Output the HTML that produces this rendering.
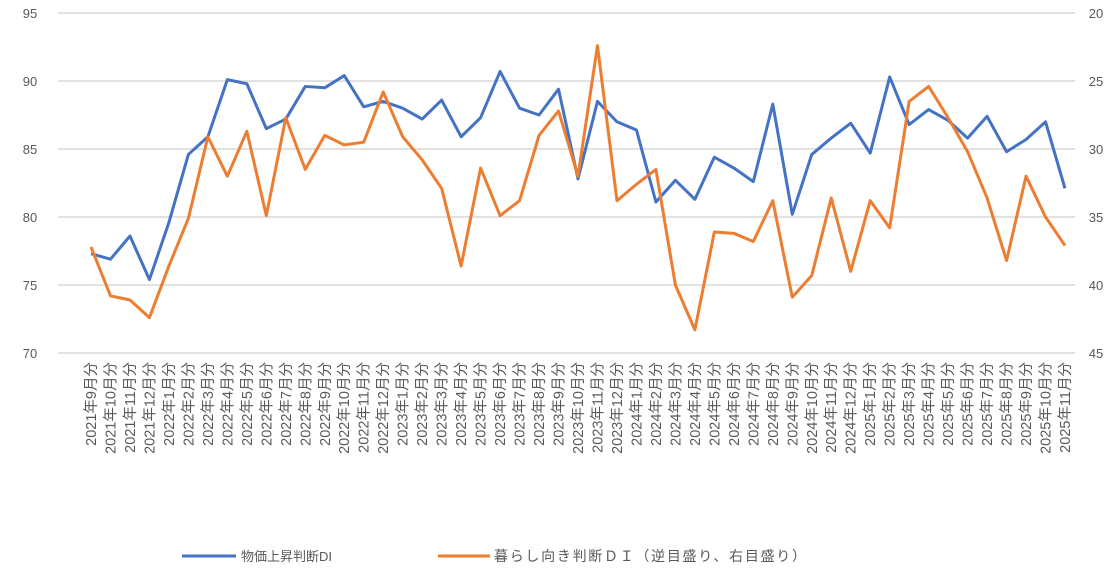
<!DOCTYPE html>
<html><head><meta charset="utf-8"><style>
body{margin:0;background:#fff;}
svg text{font-family:"Liberation Sans","Noto Sans CJK JP",sans-serif;fill:#595959;}
</style></head><body>
<svg id="chart" width="1114" height="573" xmlns="http://www.w3.org/2000/svg">
<g id="grid"></g><g id="xlabels"></g><g id="lines"></g>
<g>
<line x1="182" y1="556" x2="236" y2="556" stroke="#4472C4" stroke-width="3"/>
<text x="241" y="561" font-size="13">物価上昇判断DI</text>
<line x1="438" y1="556" x2="490" y2="556" stroke="#ED7D31" stroke-width="3"/>
<text x="494" y="561" font-size="14" textLength="312" lengthAdjust="spacing">暮らし向き判断ＤＩ（逆目盛り、右目盛り）</text>
</g>
</svg>
<script>
const categories=[];
for(let y=2021,m=9;!(y===2025&&m===12);){categories.push(y+'年'+m+'月分');m++;if(m>12){m=1;y++;}}
const priceDI=[77.3,76.9,78.6,75.4,79.6,84.6,85.9,90.1,89.8,86.5,87.2,89.6,89.5,90.4,88.1,88.5,88.0,87.2,88.6,85.9,87.3,90.7,88.0,87.5,89.4,82.8,88.5,87.0,86.4,81.1,82.7,81.3,84.4,83.6,82.6,88.3,80.2,84.6,85.8,86.9,84.7,90.3,86.8,87.9,87.1,85.8,87.4,84.8,85.7,87.0,82.1];
const livingDI=[37.2,40.8,41.1,42.4,38.6,35.1,29.1,32.0,28.7,34.9,27.7,31.5,29.0,29.7,29.5,25.8,29.1,30.8,32.9,38.6,31.4,34.9,33.8,29.0,27.2,32.0,22.4,33.8,32.6,31.5,40.0,43.3,36.1,36.2,36.8,33.8,40.9,39.3,33.6,39.0,33.8,35.8,26.5,25.4,27.7,30.2,33.6,38.2,32.0,35.0,37.1];
const leftTicks=[70,75,80,85,90,95];
const rightTicks=[20,25,30,35,40,45];
const NS='http://www.w3.org/2000/svg';
const x0=91,x1=1065,yTop=13,yBot=353;
const xs=i=>x0+i*(x1-x0)/(categories.length-1);
const yL=v=>yTop+(95-v)/25*(yBot-yTop);
const yR=v=>yTop+(v-20)/25*(yBot-yTop);
const mk=(t,a,p)=>{const e=document.createElementNS(NS,t);for(const k in a)e.setAttribute(k,a[k]);p.appendChild(e);return e;};
const grid=document.getElementById('grid');
leftTicks.forEach(v=>{
 const l=mk('line',{x1:58,x2:1075,y1:yL(v),y2:yL(v),stroke:'#d9d9d9','stroke-width':1.5},grid);
 
 
 const t=mk('text',{x:30,y:yL(v)+5,'font-size':13,'text-anchor':'middle'},grid);t.textContent=v;
 
 
});
rightTicks.forEach(v=>{
 const t=mk('text',{x:1096,y:yR(v)+5,'font-size':13,'text-anchor':'middle'},grid);t.textContent=v;
 
 
});
const xl=document.getElementById('xlabels');
categories.forEach((c,i)=>{
 const t=mk('text',{x:0,y:0,'font-size':14.5,'text-anchor':'end',transform:`translate(${xs(i)+5},362) rotate(-90)`},xl);t.textContent=c;
 
 
});
const lines=document.getElementById('lines');
const p1=mk('polyline',{points:priceDI.map((v,i)=>xs(i)+','+yL(v)).join(' '),fill:'none',stroke:'#4472C4','stroke-width':3,'stroke-linejoin':'round'},lines);


const p2=mk('polyline',{points:livingDI.map((v,i)=>xs(i)+','+yR(v)).join(' '),fill:'none',stroke:'#ED7D31','stroke-width':3,'stroke-linejoin':'round'},lines);


</script>
</body></html>
